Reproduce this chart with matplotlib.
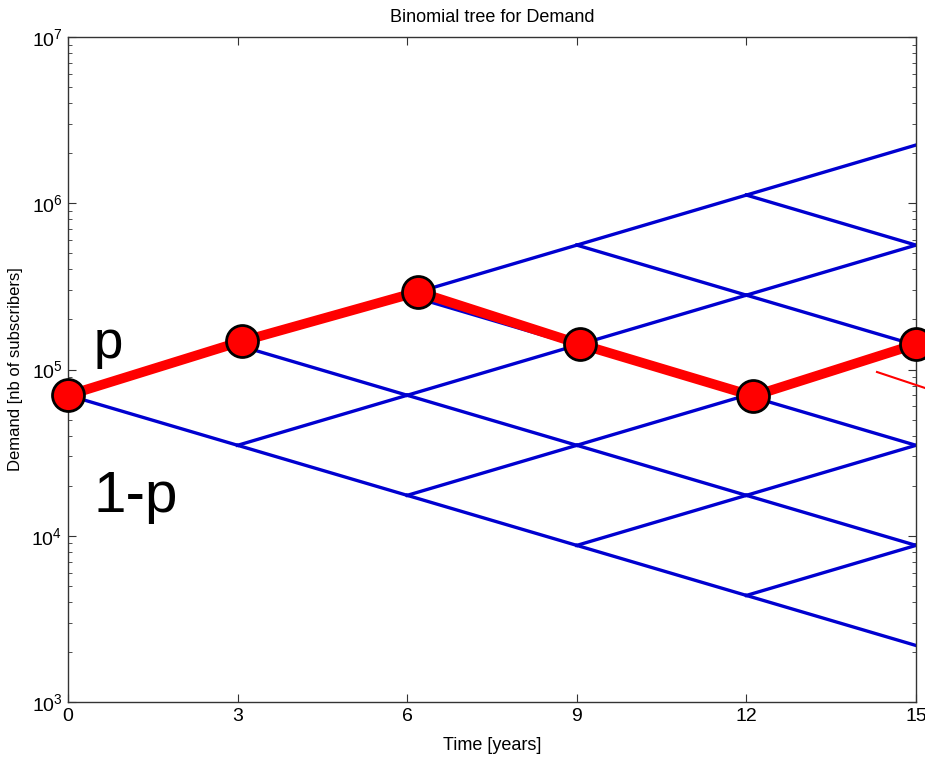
import matplotlib
matplotlib.use('Agg')
import matplotlib.pyplot as plt
from matplotlib.ticker import LogLocator, NullFormatter, FixedLocator

plt.rcParams['font.family'] = ['Liberation Sans', 'DejaVu Sans']

# Binomial tree: start demand, up/down factor, time steps
d0 = 7e4
factor = 2.0
times = [0, 3, 6, 9, 12, 15]

# Highlighted path
path_t = [0, 3.08, 6.19, 9.06, 12.12, 15]
path_d = [7e4, 1.48e5, 2.93e5, 1.42e5, 6.93e4, 1.42e5]

# Short red stub at the right edge
stub_t = [14.31, 15.16]
stub_d = [9.66e4, 7.74e4]

fig = plt.figure(figsize=(9.25, 7.57), dpi=100)
ax = fig.add_axes([68 / 925, 1 - 702 / 757, (916 - 68) / 925, (702 - 37) / 757])

# Blue tree: every node branches up and down
for i in range(len(times) - 1):
    for j in range(i + 1):
        d = d0 * factor ** (2 * j - i)
        ax.plot([times[i], times[i + 1]], [d, d * factor], color='#0000d0', lw=2.4, zorder=2)
        ax.plot([times[i], times[i + 1]], [d, d / factor], color='#0000d0', lw=2.4, zorder=2)

ax.plot(path_t, path_d, color='red', lw=7, zorder=3, solid_capstyle='butt')
ax.plot(path_t, path_d, 'o', ms=23, mfc='red', mec='black', mew=2, zorder=4, clip_on=False)
ax.plot(stub_t, stub_d, color='red', lw=1.5, zorder=3, clip_on=False)

ax.text(0.45, 1.42e5, 'p', fontsize=38, va='center', ha='left')
ax.text(0.45, 1.72e4, '1-p', fontsize=42, va='center', ha='left')

ax.set_yscale('log')
ax.set_xlim(0, 15)
ax.set_ylim(1e3, 1e7)
ax.xaxis.set_major_locator(FixedLocator(times))
ax.yaxis.set_major_locator(LogLocator(base=10, numticks=10))
ax.yaxis.set_minor_locator(LogLocator(base=10, subs=range(2, 10), numticks=10))
ax.yaxis.set_minor_formatter(NullFormatter())
ax.tick_params(which='both', direction='in', top=True, right=True, labelsize=14, color='#333333')
ax.tick_params(which='major', length=6, pad=4)
ax.tick_params(which='minor', length=3)
for s in ax.spines.values():
    s.set_color('#333333')
    s.set_linewidth(1)

ax.set_title('Binomial tree for Demand', fontsize=13, pad=11)
ax.set_xlabel('Time [years]', fontsize=13, labelpad=9)
ax.set_ylabel('Demand [nb of subscribers]', fontsize=12, labelpad=6)

fig.savefig('out.png', dpi=100)
